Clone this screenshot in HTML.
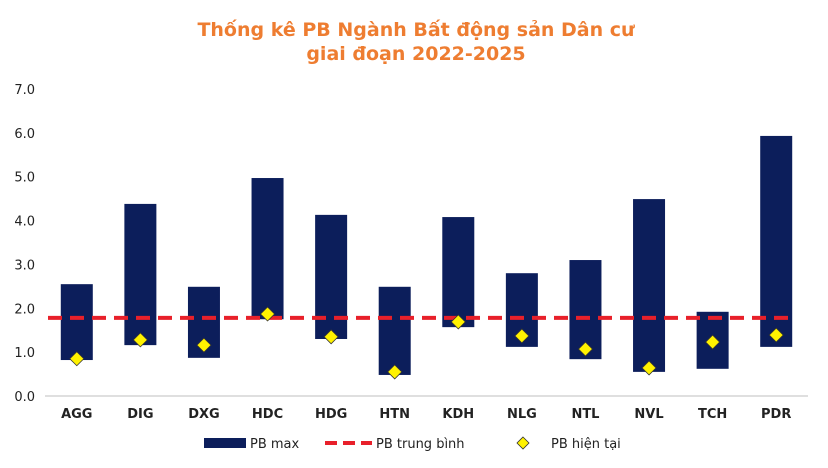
<!DOCTYPE html>
<html><head><meta charset="utf-8">
<style>
body{margin:0;background:#fff;}
svg{display:block;font-family:"DejaVu Sans","Liberation Sans",sans-serif;}
</style></head>
<body>
<svg id="chart" width="828" height="468" viewBox="0 0 828 468" xmlns="http://www.w3.org/2000/svg">
<rect width="828" height="468" fill="#fff"/>
<text x="416" y="36" text-anchor="middle" font-size="19" font-weight="bold" fill="#EE7D31">Thống kê PB Ngành Bất động sản Dân cư</text>
<text x="416" y="60" text-anchor="middle" font-size="19" font-weight="bold" fill="#EE7D31">giai đoạn 2022-2025</text>
<g id="yaxis"></g>
<g id="bars"></g>
<g id="avg"></g>
<g id="pts"></g>
<g id="xaxis"></g>
<g>
  <rect x="204" y="438" width="42" height="10" fill="#0C1E5B"/>
  <text x="250" y="448" font-size="13" fill="#222">PB max</text>
  <line x1="325" y1="443" x2="372" y2="443" stroke="#E8202A" stroke-width="4" stroke-dasharray="12,6"/>
  <text x="376" y="448" font-size="13" fill="#222">PB trung bình</text>
  <path d="M523 437 L529 443 L523 449 L517 443 Z" fill="#FFF200" stroke="#333" stroke-width="0.8"/>
  <text x="551" y="448" font-size="13" fill="#222">PB hiện tại</text>
</g>
</svg>
<script>
const categories=["AGG","DIG","DXG","HDC","HDG","HTN","KDH","NLG","NTL","NVL","TCH","PDR"];
const pbMax=[2.55,4.38,2.49,4.97,4.13,2.49,4.08,2.80,3.10,4.49,1.92,5.93];
const pbMin=[0.82,1.16,0.87,1.75,1.30,0.48,1.57,1.12,0.84,0.55,0.62,1.12];
const pbCurrent=[0.85,1.28,1.16,1.87,1.35,0.55,1.69,1.37,1.07,0.64,1.23,1.39];
const pbAverage=1.78;
const yTicks=[0,1,2,3,4,5,6,7];

const NS="http://www.w3.org/2000/svg";
const x0=45,x1=808,yBase=396,yTop=89,yMax=7;
const step=(x1-x0)/categories.length;
const xs=i=>x0+step*(i+0.5);
const ys=v=>yBase-(v/yMax)*(yBase-yTop);
function mk(tag,attrs,parent){const e=document.createElementNS(NS,tag);for(const k in attrs)e.setAttribute(k,attrs[k]);parent.appendChild(e);return e;}
const gy=document.getElementById('yaxis'),gb=document.getElementById('bars'),ga=document.getElementById('avg'),gp=document.getElementById('pts'),gx=document.getElementById('xaxis');
yTicks.forEach(t=>{const e=mk('text',{x:35,y:ys(t)+5,'text-anchor':'end','font-size':13,fill:'#222'},gy);e.textContent=t.toFixed(1);

});
const ax=mk('line',{x1:x0,x2:x1,y1:yBase,y2:yBase,stroke:'#BFBFBF','stroke-width':1},gx);


categories.forEach((c,i)=>{
 const r=mk('rect',{x:xs(i)-16,y:ys(pbMax[i]),width:32,height:ys(pbMin[i])-ys(pbMax[i]),fill:'#0C1E5B'},gb);
 
 
 const t=mk('text',{x:xs(i),y:yBase+22,'text-anchor':'middle','font-size':13,'font-weight':'bold',fill:'#222'},gx);t.textContent=c;
 
 
});
const al=mk('line',{x1:x0+3,x2:xs(categories.length-1)+15,y1:ys(pbAverage),y2:ys(pbAverage),stroke:'#E8202A','stroke-width':4,'stroke-dasharray':'14,8'},ga);


categories.forEach((c,i)=>{const cx=xs(i),cy=ys(pbCurrent[i]);
 const d=mk('path',{d:`M${cx} ${cy-7} L${cx+7} ${cy} L${cx} ${cy+7} L${cx-7} ${cy} Z`,fill:'#FFF200',stroke:'#333','stroke-width':0.8},gp);
 
 
});
</script>
</body></html>
